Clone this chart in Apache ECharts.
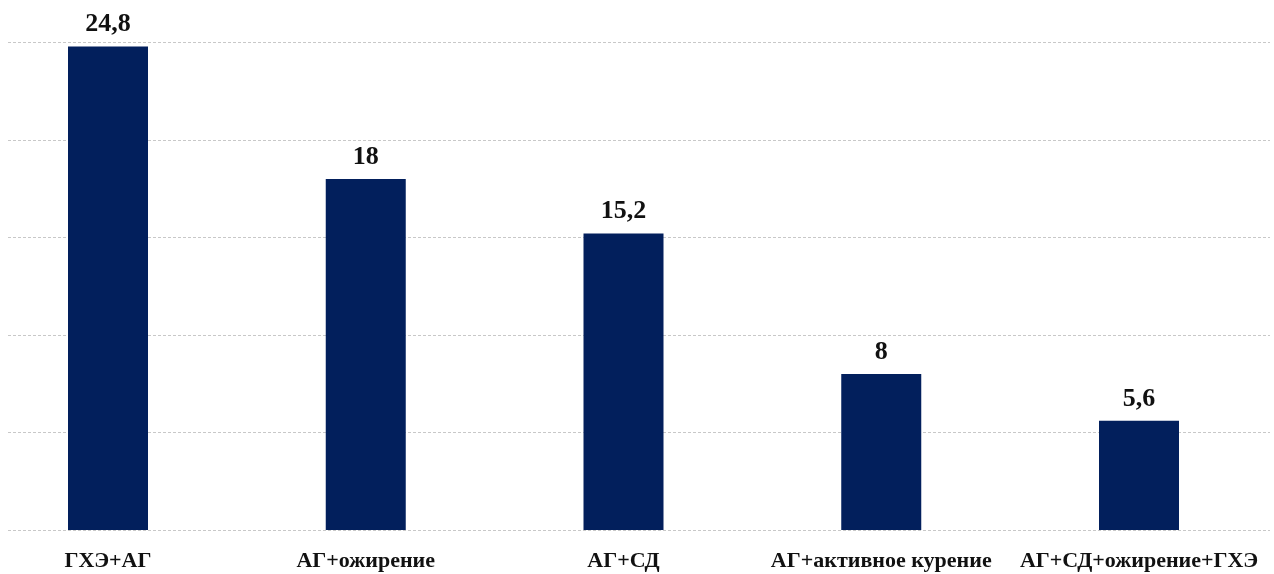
<!DOCTYPE html>
<html>
<head>
<meta charset="utf-8">
<script src="https://cdn.jsdelivr.net/npm/echarts@6/dist/echarts.min.js"></script>
<style>
  html, body { margin: 0; padding: 0; background: #ffffff; }
  #chart { width: 1274px; height: 574px; }
</style>
</head>
<body>
<div id="chart"></div>
<script>
// Combinations of risk factors and their share, %
const categories = ['ГХЭ+АГ', 'АГ+ожирение', 'АГ+СД', 'АГ+активное курение', 'АГ+СД+ожирение+ГХЭ'];
const values = [24.8, 18, 15.2, 8, 5.6];
const valueMin = 0;
const valueMax = 25;
const valueStep = 5;

const fmt = v => String(v).replace('.', ',');
const serif = '"Liberation Serif", "Times New Roman", serif';

const chart = echarts.init(document.getElementById('chart'));
chart.setOption({
  backgroundColor: '#ffffff',
  animation: false,
  grid: [
    // grid for the horizontal guide lines
    { left: 8, right: 4, top: 42.5, bottom: 44, containLabel: false },
    // grid for the bars: first and last category sit on the grid edges
    { left: 108, right: 135, top: 42.5, bottom: 44, containLabel: false }
  ],
  xAxis: [
    { gridIndex: 0, type: 'category', data: categories, show: false },
    {
      gridIndex: 1, type: 'category', data: categories, boundaryGap: false,
      axisLine: { show: false },
      axisTick: { show: false },
      axisLabel: {
        interval: 0, margin: 20,
        fontFamily: serif, fontSize: 22, fontWeight: 'bold', color: '#111111'
      }
    }
  ],
  yAxis: [
    {
      gridIndex: 0, type: 'value', min: valueMin, max: valueMax, interval: valueStep,
      axisLine: { show: false }, axisTick: { show: false }, axisLabel: { show: false },
      splitLine: { show: true, lineStyle: { color: '#c8c8c8', type: [3, 2], width: 1 } }
    },
    {
      gridIndex: 1, type: 'value', min: valueMin, max: valueMax, interval: valueStep,
      show: false, splitLine: { show: false }
    }
  ],
  series: [{
    type: 'bar',
    xAxisIndex: 1,
    yAxisIndex: 1,
    data: values,
    barWidth: 80,
    clip: false,
    itemStyle: { color: '#021f5c' },
    label: {
      show: true, position: 'top', distance: 9,
      formatter: p => fmt(p.value),
      fontFamily: serif, fontSize: 26, fontWeight: 'bold', color: '#111111'
    }
  }]
});
</script>
</body>
</html>
